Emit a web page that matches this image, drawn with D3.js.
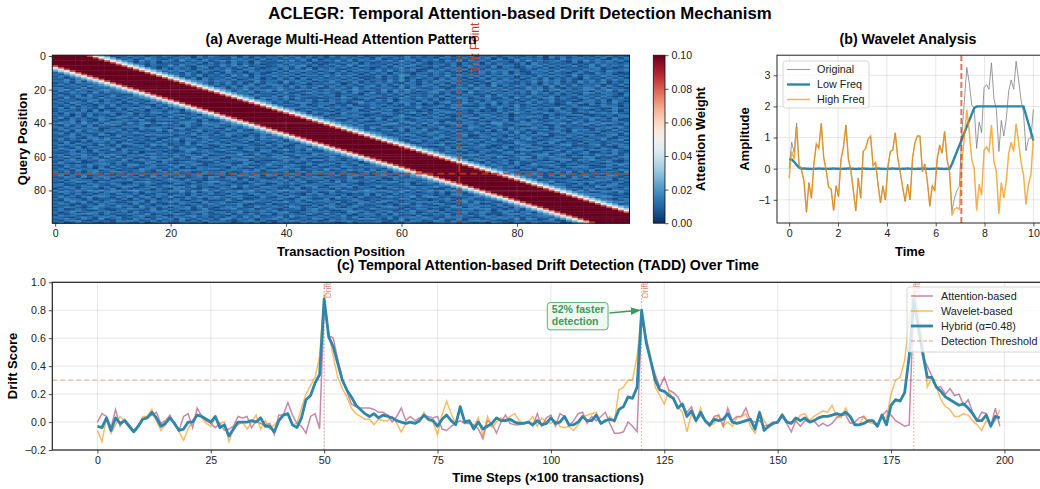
<!DOCTYPE html>
<html>
<head>
<meta charset="utf-8">
<script src="https://cdn.jsdelivr.net/npm/d3@7"></script>
<style>
body { margin: 0; background: #fff; }
svg { font-family: "Liberation Sans", Arial, sans-serif; }
</style>
</head>
<body>
<div id="chart"></div>
<script>
// ---------- (a) attention heatmap ----------
var heatSize = 100;
var heatTicks = [0, 20, 40, 60, 80];
var cbarTicks = [0, 0.02, 0.04, 0.06, 0.08, 0.10];
var heatDrift = 70;
// weight by distance |query - key| along the diagonal band
var bandProfile = [0.2, 0.2, 0.2, 0.2, 0.2, 0.2, 0.082, 0.052, 0.032, 0.02];
// background noise, one digit per cell (0 = 0.003 ... 9 = 0.0165)
var noiseRows = [
"4627351846253947163852741839624718352649385274619364291538742957364182538164927542639185747152849362",
"3751942863517284963527491836452937184652839471625384726195374826351974283659142837546193825746391528",
"5284637192463815974263957184623584719264375829163547286391452873649152837465192384756132947563821945",
"6139482575284619372851936472593846172539482617354928164735829471635284917362845173926458317294658371",
"2947563814375926481536274918352847196342857391624583917246385729416357284619375248196374528163947526",
"4816395273592847164372958146385927461358294736158429637452817396425837164925384617295836471529384657",
"7352846192648397152485731964283759146237548916352748196537284961548327169453827614958273649158274639",
"3964725184728359461638472591647382951465839271647593825146379258416395728463917524863917254638927145",
"5182937465391846275927461835748319624581736492857316495283746591263847591628374952618473956284713569",
"2659483716847253961475936284159372846327195846258391746583927461397524816374958261375829461738529646",
"4738165293562847193846295173829461573195847263951847362947185326748593162483759164287395416832957413",
"6295374813471928563617384925463859172846381957264735918246359817426375948162738495236817459263748152",
"3847192656283749158749263815362948175394728165493857162481739645827391564829374615728394618275394826",
"5716384925938471624365928174649275381627391854726384915273648159372648519283746517394826375194628371",
"4392815768471639528652748193573914862548263719564827391652839471562938471562839471652938472165384957",
"6583927145319482675243861973857264193562948371529384716253948172639584726139485726394857162948371526",
"2471958364865739214738195462649381572741825936478513926485731962847519362841975326481759362847591638",
"5938264711429378563659482173827364915896427315453817294638296471582953748162947538162947538264715392",
"3164729584782516394347295816253819647267193845928364517927418365947261538472916385746291837465928317",
"7825391645364827159925163847491758362358471629136582947365738194257314862957382614958273164597382641",
"4591836278517293846483756192836249175749318562472815936418364927515926483754829163748259361478259364",
"2937461859682415397274839165517384926916574238365492871548193762489473619258361748295162837461958273",
"6148573926359182746851624937392856714473812695784163925926375814368251739462847516395827461398275416",
"3825619473741396582397561824684137295528469137267358419453928176474395186237194856273648159273648519",
"5672938415926485371638294751259671843391825764946182573784261935382917645829475163947281563847295136",
"4193576284473859162927158346863724519765849312134597268612739548546283971567318294625893741582936472",
"2856147939618273845416938572374915628283716594958364217295814736729146385438265917391582647259381765",
"7364829515372946183753281946621849735847295361416573892463928571853692471926847351748593261386472951",
"3719562848561382794248695317983576142525148973668241395734165829271584396385917246827361495947163825",
"5482936174927465318561743298146928357394762815772539164858472936143628957471936582593741268218594637",
"6257184393846517926392857461527361849468135972925748613671823459538946721264587193716254938452389716",
"3918465272173694851817439526845927136159286347483651792936475128264139587592381764384759162697421853",
"4675293815482938167546182739319584627726491583358274916257913864719642853836175294953628471541736928",
"2846571939357164285289375164764813259543792618631658742984526371345987162614293857278516943869342715",
"5193827467624915378473126598297465183315846927286193475418732695928375641753618294462973581137685942",
"7481639253915738462638947125854172396693251874472586931365849217174923568289475136536182479921457386",
"3652918474289546137195264873736981524257439168915347682742169853658271394364928157897345612483516279",
"4917362585673281946542918736158247369871562493364892517293475168426753819917384265625193847358761942",
"6238475197148659327876345291493561872429873156537216498581947326795412683286539174172648593649275813",
"2579183463896427513324789165267834951658314297742859361157328946367194258531867429498256317815923674",
"5846293718451836927951672384584129637316957482289643715643791582928357164174982635631574928257398416",
"3194657286972548131427385169735916248872415936526178394319864257185236947452693178948127563693851427",
"7462819354318697256865193472961748325543286719147539862782145936356914728829375641275938164416257893",
"4827365912653419787318942657218637594185947326694182573936257481742863159561742938893416725532968174",
"2683947516581726349592617834649283175276158943853716492427938165913475826348291657156837429781542936",
"5361829747948371526184573926372495681964731258215894637853416279649728153726158394624379518357916482",
"6917452381236598473436928175158736249528163794376249158194582736287351964953846271719623845843175629",
"3548176297185423968781359462839461527319586247925738416546137982573826491164752839385914276268437915",
"4279638514692847135523741896467152839876324915738165294382954167146983572497261358753128694916548273",
"5836217949327164582169485273512739648453897126647582931761294835839517624235846917928473516374692158",
"2715493868573926141948267359385274916695143728219386475534862197375142869682917354861359742547283691",
"4693152784815374629356184792726439185438275961368794512957613248264598173719432586327896154185627439",
"6182947353639821574725391648951862437164952873581237694375846921642713958254863197548192673917534862",
"3857264194182576396814273951469578312927316548935462817832194765758936214496125738713645892246918375",
"5426918737491358262593746185182435967648159723257913648156378492321584796873269145985127463536742189",
"2961735486826743915375869412736917524281537496618724395697245813486371925642718359149583726854196237",
"7359461823918245674621589374594236817736945182462815973243596178934267581357491268864129357618753942",
"4537182965368591427152394786327861459814328675286743159374582916168495237286357914613785294491276853",
"3268854172657132894936751248652397481462875319859162374513218649726934815561428739375914862783541926",
"6815394277841769253547286391348692175257139648375498216185269473642157389928751364249836715142968537",
"2493676518193452786628417935571438926386921574629357841749183265783256914164397258916584327597423168",
"5627183943735816294283749516812975364659473812157624983928475613419372856837251649428369751368152947",
"4178526396429178536961235478367589142123856749938416257636712984574829361692548137763145892859637214",
"3856912475586324791845796132926437815496728351243785619281569347651943782518276493536891724472589316",
"6941235788273651946731568924485129673867341295579164832464938275843127596247659183195427368236415879",
"2175849365461895372386947215758396124932587461862573194519274638926358417973842561685793142751368294",
"5394628171935742685629183754241875936574963128316298547783156429371486952416395827451368279984215637",
"3728465196284319753475231869963742158215689374597815362642397581158693274859274316839415726463879152",
"4561937826713468529152897643327658491798425136281459673926548317537249816624835971218973564539162487",
"7283516944896257314938461275584139762453716928846372159387195462261784539985142637674528391826437519",
"3652749818142983657267315894791826345635294187479158326148763925893527164357961482496237185153794268",
"5917382464375619282854736912462397581981647253135826974279418536618953742249685317765281934675319842",
"2486193577628471395516824739817543962526381749674239518853674291347162859781539264539146728392876415",
"6375821949153746828493157628358916274149257386926548137482193657956384127625738491876523149617458293",
"4829567132786923541678492315623748159763918425281637954915246783528719364367249518912485673254986137",
"3164975286532187946245638179974152836587364912843915627367891524791432685184562937436791258769432581",
"5837219644961354872319724658286531497128596347597486213524637918473568192793214856658239741817365924",
"7621483952385792614882159367731849562375241896614793825696254731236857419518963742941376528542819763",
"4396157827248613593567938241465927318853167249238659174173842596659421387374592618587614932163987425",
"2758396415916247838419573286397216485682439157771925346821596374842173956953784162214859367387251649",
"6142738593674895214356817492813475926238965714457183269568314927384659271426197358685327491918643752",
"3975614827851372964264938157248596731946175328138246957734958261572814639869351742326479185651387294",
"5283947166297481538813527649461732895582743196927651438285193746453718926217536498578965213389752461",
"4617352987436829157549618273329584167678195243764182539193745682961437852786429315452381796246897135",
"2854169375184736926391274856952763418315862974546937182417862593698251347853614729739152684731598642",
"7396528144528193671627493518748391256469317852291856734562439817324795168247813596187465329592364178",
"3189746525962348175758316942239417685731548296875234961628951473516372894634598217923786451146829537",
"5628491737413685292485762193671258934287936415364915278397162548785146392957326184651294378823416795",
"4973165286854192734132857469596784132914265873638172495741538926249831567812675943384962715678591324",
"6341827595297638417697314825824391576563784129197543862286714359631659248478192635713845962235147689",
"2587314964682519473816592734158673294476198352849316725527983146457328916934527186592714836957634218",
"5712638941345976281364781592476925813831547269526897143963451728713264589689351472278639514481925367",
"3846951275178342695927153486213485769692354178371259684158627394598173246247186953829461375738216945",
"6159247838736194258581437962782591436358921647654318927472953681362815794586239417617358294316497852",
"4325789617264853913649725183359164827817463295293746158628194573847592361471326895956218437864725139",
"2968413755813279648215389674641837592546297813728491365836572419126473958395714628368975412179836524",
"7431596288592647134937648251517629384369182457482573916243816795953187642138496752725638194642319875",
"3685274191463185729471952836298374615794613528815362497951728346672943815624857391871294563317562948",
"5279831644186973582653817294473156928225798364139687524364259187249615738987321465643782159958247361",
"4813967526378429165832574619865247391617352948574139286782361954316859274351974286296458137836195427"
];

// ---------- (b) wavelet analysis (100 samples on 0..10) ----------
var waveHigh = [-0.30,0.55,0.30,1.35,0.10,-0.05,-0.40,-1.40,-0.45,-0.95,
  0.15,0.80,0.65,1.45,0.35,-0.05,-0.60,-0.65,-1.35,-0.55,
  -0.90,0.30,0.70,1.40,0.30,-0.05,-0.70,-1.35,-0.30,-0.95,
  0.55,0.65,0.95,1.05,0.10,0.20,-0.50,-1.10,-0.55,-1.00,
  0.05,0.55,0.60,1.15,0.35,-0.10,-0.60,-1.05,-0.50,-1.00,
  0.35,0.85,1.05,1.05,-0.10,0.15,-0.40,-1.20,-0.55,-0.70,
  0.30,0.75,0.50,1.20,0.30,-0.10,-1.50,-1.30,-1.25,-1.30,
  0.20,1.00,1.90,1.20,0.30,0.00,-1.35,-0.50,-0.85,0.60,
  0.70,0.55,1.40,0.25,-0.10,-1.45,-0.45,-0.95,-0.40,0.50,
  0.85,0.55,1.45,0.85,0.20,-0.20,-1.15,-0.50,-0.20,1.00];
var waveLow = [0.30,0.30,0.22,0.12,0.04,0.00,0.01,0.00,0.00,-0.01,
  0.00,0.00,0.01,0.00,0.00,-0.01,0.00,0.00,0.01,0.00,
  0.00,-0.01,0.00,0.00,0.01,0.00,0.00,-0.01,0.00,0.00,
  0.01,0.00,0.00,-0.01,0.00,0.00,0.01,0.00,0.00,-0.01,
  0.00,0.00,0.01,0.00,0.00,-0.01,0.00,0.00,0.01,0.00,
  0.00,-0.01,0.00,0.00,0.01,0.00,0.00,-0.01,0.00,0.00,
  0.01,0.00,0.00,-0.01,0.00,0.00,0.15,0.35,0.55,0.75,
  0.95,1.15,1.35,1.55,1.75,1.95,2.00,2.00,2.00,2.00,
  2.00,2.00,2.00,2.00,2.00,2.00,2.00,2.00,2.00,2.00,
  2.00,2.00,2.00,2.00,2.00,2.00,1.72,1.45,1.18,0.90];
var waveOrig = [0.00,0.85,0.52,1.47,0.14,-0.05,-0.39,-1.40,-0.45,-0.96,
  0.15,0.80,0.66,1.45,0.35,-0.06,-0.60,-0.65,-1.34,-0.55,
  -0.90,0.29,0.70,1.40,0.31,-0.05,-0.70,-1.36,-0.30,-0.95,
  0.56,0.65,0.95,1.04,0.10,0.20,-0.49,-1.10,-0.55,-1.01,
  0.05,0.55,0.61,1.15,0.35,-0.11,-0.60,-1.05,-0.49,-1.00,
  0.35,0.84,1.05,1.05,-0.09,0.15,-0.40,-1.21,-0.55,-0.70,
  0.31,0.75,0.50,1.19,0.30,-0.10,-1.35,-0.95,-0.70,-0.55,
  1.15,2.15,3.25,2.75,2.05,1.95,0.65,1.50,1.15,2.60,
  2.70,2.55,3.40,2.25,1.90,0.55,1.55,1.05,1.60,2.50,
  2.85,2.55,3.45,2.85,2.20,1.80,0.57,0.95,0.98,1.90];
var waveDrift = 7.05;
var waveXTicks = [0, 2, 4, 6, 8, 10];
var waveYTicks = [-1, 0, 1, 2, 3];

// ---------- (c) drift scores over 200 time steps ----------
var attnScore = [0.00,0.06,0.04,-0.04,0.09,-0.03,0.02,-0.02,-0.06,-0.03,
  0.02,0.04,0.05,0.07,-0.01,0.01,0.05,-0.02,-0.06,0.04,
  0.06,-0.04,0.10,0.04,0.01,-0.01,-0.04,-0.01,-0.06,-0.05,
  -0.03,0.04,0.03,0.04,-0.04,0.01,-0.01,-0.02,-0.01,-0.09,
  0.05,0.05,0.14,0.05,-0.01,-0.03,-0.08,0.04,0.06,-0.05,
  0.85,0.62,0.60,0.45,0.31,0.22,0.13,0.11,0.10,0.10,
  0.10,0.09,0.07,0.07,0.05,0.00,0.04,0.10,0.01,0.04,
  0.01,0.03,0.04,0.04,0.03,0.04,-0.05,-0.06,-0.03,-0.01,
  0.01,-0.01,-0.01,-0.02,-0.05,-0.12,0.01,-0.01,-0.08,0.00,
  0.05,-0.01,-0.02,-0.02,-0.01,0.00,-0.03,0.06,-0.03,0.03,
  0.05,-0.03,0.06,0.04,-0.03,0.01,0.06,0.07,-0.01,0.04,
  0.01,0.04,0.07,-0.01,-0.08,-0.08,-0.07,0.00,-0.03,-0.07,
  0.73,0.60,0.44,0.34,0.25,0.32,0.23,0.21,0.18,0.11,
  0.07,0.11,0.01,0.05,0.01,-0.03,0.04,0.05,-0.03,0.10,
  0.01,0.04,0.04,0.10,0.01,0.00,0.01,-0.03,-0.02,0.00,
  -0.01,0.04,-0.01,-0.07,0.01,-0.03,0.01,0.00,0.01,-0.03,
  -0.01,-0.03,-0.01,0.03,0.05,0.05,-0.01,0.00,0.03,0.04,
  0.00,0.01,-0.03,0.04,0.08,0.05,0.01,-0.01,-0.03,-0.02,
  0.85,0.68,0.47,0.40,0.33,0.25,0.25,0.20,0.24,0.19,
  0.20,0.12,0.16,0.07,0.01,0.07,0.06,-0.03,0.10,-0.03];
var waveScore = [-0.06,-0.14,0.03,-0.08,-0.02,0.04,0.01,-0.03,-0.07,-0.02,
  0.04,0.04,0.09,0.01,-0.06,-0.02,0.04,-0.01,-0.07,-0.13,
  -0.05,0.01,0.06,0.03,-0.01,-0.03,0.03,-0.01,0.00,-0.14,
  -0.05,-0.02,0.00,-0.05,0.00,0.05,-0.05,0.01,-0.05,-0.02,
  0.01,0.06,0.05,-0.02,-0.01,0.10,0.20,0.26,0.32,0.47,
  0.91,0.64,0.47,0.32,0.24,0.18,0.10,0.06,0.04,0.02,
  0.02,-0.02,0.02,0.01,0.01,0.04,-0.01,-0.07,-0.01,0.00,
  -0.01,0.00,0.07,0.01,0.00,-0.09,0.05,0.15,0.06,-0.01,
  0.09,-0.01,0.00,-0.03,0.03,-0.10,0.04,-0.04,0.00,0.03,
  0.01,0.04,0.06,0.01,-0.01,0.00,0.04,-0.03,0.03,0.00,
  -0.01,0.01,-0.03,-0.04,-0.03,-0.06,-0.02,0.03,0.05,0.06,
  0.07,-0.01,0.00,0.04,0.00,0.23,0.25,0.30,0.30,0.47,
  0.77,0.61,0.47,0.25,0.19,0.13,0.22,0.16,0.11,0.07,
  -0.07,0.06,0.00,0.10,0.00,-0.03,-0.01,0.05,-0.03,0.00,
  -0.03,0.03,0.04,0.06,-0.03,-0.08,0.07,0.01,-0.04,-0.01,
  0.00,0.06,0.01,-0.01,0.00,0.05,0.06,0.01,0.04,0.06,
  0.08,0.07,0.12,0.04,0.03,0.10,0.03,-0.01,-0.02,0.04,
  0.00,-0.01,-0.02,0.04,0.03,0.20,0.30,0.32,0.44,0.73,
  0.95,0.80,0.56,0.25,0.32,0.25,0.16,0.11,0.09,0.04,
  0.04,0.06,0.05,0.01,-0.02,-0.06,0.01,-0.01,0.01,0.09];
var hybridScore = [-0.03,-0.04,0.03,-0.06,0.03,-0.01,0.01,-0.03,-0.07,-0.03,
  0.02,0.03,0.07,0.03,-0.03,-0.01,0.03,-0.01,-0.06,-0.05,
  0.00,0.00,0.05,0.04,0.02,0.00,0.04,-0.04,-0.02,-0.10,
  -0.05,0.00,0.00,0.00,0.01,0.00,0.03,-0.03,-0.03,-0.07,
  0.01,0.05,0.06,-0.02,-0.04,0.03,0.16,0.19,0.28,0.34,
  0.88,0.61,0.54,0.42,0.30,0.23,0.18,0.12,0.09,0.06,
  0.04,0.06,0.03,0.05,0.04,0.03,0.01,0.00,-0.01,0.00,
  -0.01,0.01,0.05,0.02,0.01,-0.03,0.02,0.05,0.01,-0.02,
  0.11,0.00,0.01,-0.05,0.00,-0.05,-0.03,-0.01,0.03,0.01,
  0.01,0.02,0.00,-0.01,-0.01,0.00,-0.02,0.01,-0.02,-0.01,
  0.03,-0.01,0.00,0.04,-0.02,-0.02,0.00,0.04,0.01,0.01,
  0.05,-0.01,0.01,0.02,0.01,0.09,0.11,0.18,0.17,0.25,
  0.80,0.57,0.44,0.30,0.23,0.22,0.19,0.17,0.10,0.13,
  0.04,0.08,0.01,0.07,0.01,-0.02,0.02,0.01,0.02,0.06,
  0.00,-0.01,0.00,0.01,0.02,-0.05,0.07,-0.06,-0.03,-0.01,
  0.00,0.05,0.00,-0.01,0.03,0.01,0.03,0.00,0.01,0.03,
  0.04,0.04,0.05,0.06,0.05,0.07,0.04,-0.02,-0.02,-0.01,
  0.01,0.01,-0.03,0.05,-0.02,0.12,0.16,0.15,0.21,0.47,
  0.88,0.68,0.49,0.32,0.32,0.25,0.22,0.18,0.16,0.14,
  0.12,0.13,0.10,0.06,0.01,0.01,0.05,-0.03,0.04,0.03];
var driftSteps = [50, 120, 180];
var threshold = 0.3;
var scoreXTicks = [0, 25, 50, 75, 100, 125, 150, 175, 200];
var scoreYTicks = [-0.2, 0, 0.2, 0.4, 0.6, 0.8, 1.0];

// colours
var cBlue = "#2E86AB", cPink = "#A23B72", cOrange = "#F18F01", cRed = "#C73E1D", cGreen = "#3d9a5e";
var tickFont = "10.6px", legendFont = "10.8px", labelFont = "13px", titleFont = "14.2px";

var W = 1040, H = 489;
var svg = d3.select("#chart").append("svg")
    .attr("width", W).attr("height", H);
svg.append("rect").attr("width", W).attr("height", H).attr("fill", "#fff");

var defs = svg.append("defs");

svg.append("text")
    .attr("x", 520).attr("y", 18.5)
    .attr("text-anchor", "middle")
    .style("font-size", "16.8px").style("font-weight", "bold")
    .text("ACLEGR: Temporal Attention-based Drift Detection Mechanism");

function styleAxis(g) {
    g.select(".domain").remove();
    g.selectAll(".tick line").attr("stroke", "#222").attr("stroke-width", 0.8);
    g.selectAll(".tick text").attr("fill", "#222").style("font-size", tickFont);
}

function axisLabel(x, y, txt, rotate) {
    var t = svg.append("text")
        .attr("text-anchor", "middle")
        .style("font-size", labelFont).style("font-weight", "bold")
        .text(txt);
    if (rotate) t.attr("transform", "translate(" + x + "," + y + ") rotate(-90)");
    else t.attr("x", x).attr("y", y);
}

function panelTitle(x, y, txt) {
    svg.append("text")
        .attr("x", x).attr("y", y)
        .attr("text-anchor", "middle")
        .style("font-size", titleFont).style("font-weight", "bold")
        .text(txt);
}

// ================= (a) heatmap =================
var hx = d3.scaleLinear().domain([-0.5, heatSize - 0.5]).range([52.3, 629.5]);
var hy = d3.scaleLinear().domain([-0.5, heatSize - 0.5]).range([55.2, 223.2]);
var heatColor = d3.scaleSequential(function(t) { return d3.interpolateRdBu(1 - t); })
    .domain([0, 0.1]).clamp(true);

var cells = [];
for (var r = 0; r < heatSize; r++) {
    for (var c = 0; c < heatSize; c++) {
        var dist = Math.abs(r - c);
        var digit = +(noiseRows[r] && noiseRows[r].charAt(c) || "5");
        var v = 0.003 + 0.0015 * digit;
        if (dist < bandProfile.length) v = Math.max(v, bandProfile[dist]);
        cells.push({ r: r, c: c, v: v });
    }
}
var cw = hx(1) - hx(0), ch = hy(1) - hy(0);
var heat = svg.append("g");
heat.selectAll("rect")
    .data(cells)
    .enter().append("rect")
    .attr("x", function(d) { return hx(d.c - 0.5); })
    .attr("y", function(d) { return hy(d.r - 0.5); })
    .attr("width", cw + 0.4)
    .attr("height", ch + 0.4)
    .attr("fill", function(d) { return heatColor(d.v); });

// faint grid over image
heat.selectAll(".gx").data(heatTicks.slice(1)).enter().append("line")
    .attr("x1", function(d) { return hx(d); }).attr("x2", function(d) { return hx(d); })
    .attr("y1", hy.range()[0]).attr("y2", hy.range()[1])
    .attr("stroke", "#ffffff").attr("stroke-opacity", 0.12);
heat.selectAll(".gy").data(heatTicks.slice(1)).enter().append("line")
    .attr("y1", function(d) { return hy(d); }).attr("y2", function(d) { return hy(d); })
    .attr("x1", hx.range()[0]).attr("x2", hx.range()[1])
    .attr("stroke", "#ffffff").attr("stroke-opacity", 0.12);

// drift point markers
svg.append("line")
    .attr("x1", hx(heatDrift)).attr("x2", hx(heatDrift))
    .attr("y1", hy.range()[0]).attr("y2", hy.range()[1])
    .attr("stroke", cRed).attr("stroke-opacity", 0.85)
    .attr("stroke-width", 1.8).attr("stroke-dasharray", "7,4");
svg.append("line")
    .attr("y1", hy(heatDrift)).attr("y2", hy(heatDrift))
    .attr("x1", hx.range()[0]).attr("x2", hx.range()[1])
    .attr("stroke", cRed).attr("stroke-opacity", 0.85)
    .attr("stroke-width", 1.8).attr("stroke-dasharray", "7,4");
svg.append("text")
    .attr("transform", "translate(" + (hx(heatDrift) + 20) + "," + hy(11.5) + ") rotate(-90)")
    .attr("fill", cRed)
    .style("font-size", "12px")
    .text("Drift Point");

svg.append("rect")
    .attr("x", hx.range()[0]).attr("y", hy.range()[0])
    .attr("width", hx.range()[1] - hx.range()[0]).attr("height", hy.range()[1] - hy.range()[0])
    .attr("fill", "none").attr("stroke", "#111").attr("stroke-width", 1);

svg.append("g").attr("transform", "translate(0," + hy.range()[1] + ")")
    .call(d3.axisBottom(hx).tickValues(heatTicks).tickSize(3.5).tickPadding(3).tickFormat(d3.format("d")))
    .call(styleAxis);
svg.append("g").attr("transform", "translate(" + hx.range()[0] + ",0)")
    .call(d3.axisLeft(hy).tickValues(heatTicks).tickSize(3.5).tickPadding(3).tickFormat(d3.format("d")))
    .call(styleAxis);

panelTitle(341, 44, "(a) Average Multi-Head Attention Pattern");
axisLabel(341, 255.5, "Transaction Position");
axisLabel(27, 139, "Query Position", true);

// colorbar
var cbY = d3.scaleLinear().domain([0, 0.1]).range([223.2, 55.2]);
var grad = defs.append("linearGradient").attr("id", "cbgrad")
    .attr("x1", 0).attr("y1", 1).attr("x2", 0).attr("y2", 0);
d3.range(0, 1.0001, 0.05).forEach(function(t) {
    grad.append("stop").attr("offset", t).attr("stop-color", heatColor(t * 0.1));
});
svg.append("rect")
    .attr("x", 653.3).attr("y", 55.2).attr("width", 11.7).attr("height", 168)
    .attr("fill", "url(#cbgrad)").attr("stroke", "#111").attr("stroke-width", 0.8);
svg.append("g").attr("transform", "translate(665,0)")
    .call(d3.axisRight(cbY).tickValues(cbarTicks).tickSize(3.5).tickPadding(3).tickFormat(d3.format(".2f")))
    .call(styleAxis);
axisLabel(705, 139, "Attention Weight", true);

// ================= (b) wavelet =================
var waveTime = d3.range(waveOrig.length).map(function(i) { return i * 10 / (waveOrig.length - 1); });
var bx = d3.scaleLinear().domain([-0.5, 10.5]).range([777, 1045.6]);
var by = d3.scaleLinear().domain([-1.745, 3.645]).range([223, 55.2]);

defs.append("clipPath").attr("id", "clipB").append("rect")
    .attr("x", bx.range()[0]).attr("y", by.range()[1])
    .attr("width", bx.range()[1] - bx.range()[0]).attr("height", by.range()[0] - by.range()[1]);

var gb = svg.append("g");
gb.selectAll(".gx").data(waveXTicks).enter().append("line")
    .attr("x1", function(d) { return bx(d); }).attr("x2", function(d) { return bx(d); })
    .attr("y1", by.range()[0]).attr("y2", by.range()[1])
    .attr("stroke", "#b0b0b0").attr("stroke-opacity", 0.3);
gb.selectAll(".gy").data(waveYTicks).enter().append("line")
    .attr("y1", function(d) { return by(d); }).attr("y2", function(d) { return by(d); })
    .attr("x1", bx.range()[0]).attr("x2", bx.range()[1])
    .attr("stroke", "#b0b0b0").attr("stroke-opacity", 0.3);

var waveLine = function(arr) {
    return d3.line()
        .x(function(d, i) { return bx(waveTime[i]); })
        .y(function(d) { return by(d); })(arr);
};
var gbl = svg.append("g").attr("clip-path", "url(#clipB)");
gbl.append("path").attr("d", waveLine(waveOrig))
    .attr("fill", "none").attr("stroke", "#808080").attr("stroke-opacity", 0.8).attr("stroke-width", 1);
gbl.append("path").attr("d", waveLine(waveLow))
    .attr("fill", "none").attr("stroke", cBlue).attr("stroke-width", 2.4);
gbl.append("path").attr("d", waveLine(waveHigh))
    .attr("fill", "none").attr("stroke", cOrange).attr("stroke-opacity", 0.7).attr("stroke-width", 1.5);
gbl.append("line")
    .attr("x1", bx(waveDrift)).attr("x2", bx(waveDrift))
    .attr("y1", by.range()[0]).attr("y2", by.range()[1])
    .attr("stroke", cRed).attr("stroke-opacity", 0.7)
    .attr("stroke-width", 2).attr("stroke-dasharray", "6,3");

svg.append("rect")
    .attr("x", bx.range()[0]).attr("y", by.range()[1])
    .attr("width", bx.range()[1] - bx.range()[0]).attr("height", by.range()[0] - by.range()[1])
    .attr("fill", "none").attr("stroke", "#222").attr("stroke-width", 1);
svg.append("g").attr("transform", "translate(0," + by.range()[0] + ")")
    .call(d3.axisBottom(bx).tickValues(waveXTicks).tickSize(3.5).tickPadding(3).tickFormat(d3.format("d")))
    .call(styleAxis);
svg.append("g").attr("transform", "translate(" + bx.range()[0] + ",0)")
    .call(d3.axisLeft(by).tickValues(waveYTicks).tickSize(3.5).tickPadding(3).tickFormat(d3.format("d")))
    .call(styleAxis);

panelTitle(908, 44, "(b) Wavelet Analysis");
axisLabel(910, 255.5, "Time");
axisLabel(749, 139, "Amplitude", true);

// legend (b)
var legB = [
    { name: "Original", color: "#808080", op: 0.8, w: 1 },
    { name: "Low Freq", color: cBlue, op: 1, w: 2.4 },
    { name: "High Freq", color: cOrange, op: 0.7, w: 1.5 }
];
var lb = svg.append("g").attr("transform", "translate(783,61)");
lb.append("rect").attr("width", 86).attr("height", 47).attr("rx", 2.5)
    .attr("fill", "#fff").attr("fill-opacity", 0.8).attr("stroke", "#cccccc").attr("stroke-width", 0.8);
legB.forEach(function(d, i) {
    var yy = 8.5 + i * 15;
    lb.append("line").attr("x1", 4).attr("x2", 27).attr("y1", yy).attr("y2", yy)
        .attr("stroke", d.color).attr("stroke-opacity", d.op).attr("stroke-width", d.w);
    lb.append("text").attr("x", 34).attr("y", yy + 3.8)
        .style("font-size", legendFont).attr("fill", "#222").text(d.name);
});

// ================= (c) drift scores =================
var steps = d3.range(hybridScore.length);
var cx = d3.scaleLinear().domain([-9.95, 208.95]).range([52.3, 1045]);
var cy = d3.scaleLinear().domain([-0.2, 1.0]).range([450, 282.3]);

defs.append("clipPath").attr("id", "clipC").append("rect")
    .attr("x", cx.range()[0]).attr("y", cy.range()[1])
    .attr("width", cx.range()[1] - cx.range()[0]).attr("height", cy.range()[0] - cy.range()[1]);

var gc = svg.append("g");
gc.selectAll(".gx").data(scoreXTicks).enter().append("line")
    .attr("x1", function(d) { return cx(d); }).attr("x2", function(d) { return cx(d); })
    .attr("y1", cy.range()[0]).attr("y2", cy.range()[1])
    .attr("stroke", "#b0b0b0").attr("stroke-opacity", 0.3);
gc.selectAll(".gy").data(scoreYTicks).enter().append("line")
    .attr("y1", function(d) { return cy(d); }).attr("y2", function(d) { return cy(d); })
    .attr("x1", cx.range()[0]).attr("x2", cx.range()[1])
    .attr("stroke", "#b0b0b0").attr("stroke-opacity", 0.3);

var scoreLine = d3.line()
    .x(function(d, i) { return cx(steps[i]); })
    .y(function(d) { return cy(d); });
var gcl = svg.append("g").attr("clip-path", "url(#clipC)");

// threshold + drift markers
gcl.append("line")
    .attr("x1", cx.range()[0]).attr("x2", cx.range()[1])
    .attr("y1", cy(threshold)).attr("y2", cy(threshold))
    .attr("stroke", cRed).attr("stroke-opacity", 0.5).attr("stroke-width", 1)
    .attr("stroke-dasharray", "5,3");
gcl.selectAll(".drift").data(driftSteps).enter().append("line")
    .attr("x1", function(d) { return cx(d); }).attr("x2", function(d) { return cx(d); })
    .attr("y1", cy.range()[0]).attr("y2", cy.range()[1])
    .attr("stroke", cRed).attr("stroke-opacity", 0.45).attr("stroke-width", 1)
    .attr("stroke-dasharray", "1.5,2");

gcl.append("path").attr("d", scoreLine(attnScore))
    .attr("fill", "none").attr("stroke", cPink).attr("stroke-opacity", 0.6).attr("stroke-width", 1.5);
gcl.append("path").attr("d", scoreLine(waveScore))
    .attr("fill", "none").attr("stroke", cOrange).attr("stroke-opacity", 0.6).attr("stroke-width", 1.5);
gcl.append("path").attr("d", scoreLine(hybridScore))
    .attr("fill", "none").attr("stroke", cBlue).attr("stroke-width", 2.8)
    .attr("stroke-linejoin", "round");

gcl.selectAll(".dlab").data(driftSteps).enter().append("text")
    .attr("transform", function(d) { return "translate(" + (cx(d) + 6.5) + "," + cy(0.885) + ") rotate(-90)"; })
    .attr("fill", cRed).attr("fill-opacity", 0.65)
    .style("font-size", "8.5px")
    .text("Drift");

svg.append("rect")
    .attr("x", cx.range()[0]).attr("y", cy.range()[1])
    .attr("width", cx.range()[1] - cx.range()[0]).attr("height", cy.range()[0] - cy.range()[1])
    .attr("fill", "none").attr("stroke", "#222").attr("stroke-width", 1.2);
svg.append("g").attr("transform", "translate(0," + cy.range()[0] + ")")
    .call(d3.axisBottom(cx).tickValues(scoreXTicks).tickSize(3.5).tickPadding(3).tickFormat(d3.format("d")))
    .call(styleAxis);
svg.append("g").attr("transform", "translate(" + cx.range()[0] + ",0)")
    .call(d3.axisLeft(cy).tickValues(scoreYTicks).tickSize(3.5).tickPadding(3).tickFormat(d3.format(".1f")))
    .call(styleAxis);

panelTitle(548, 270, "(c) Temporal Attention-based Drift Detection (TADD) Over Time");
axisLabel(548, 481.5, "Time Steps (\u00d7100 transactions)");
axisLabel(17, 366, "Drift Score", true);

// annotation at second drift
var peakStep = driftSteps[1];
var ann = svg.append("g");
ann.append("rect")
    .attr("x", cx(99.2)).attr("y", cy(0.855))
    .attr("width", cx(112.6) - cx(99.2)).attr("height", cy(0.66) - cy(0.855))
    .attr("rx", 3)
    .attr("fill", "#eef7f1").attr("fill-opacity", 0.9)
    .attr("stroke", cGreen).attr("stroke-opacity", 0.8).attr("stroke-width", 1);
ann.append("text")
    .attr("x", cx(100.2)).attr("y", cy(0.78))
    .attr("fill", cGreen).style("font-size", "10.5px").style("font-weight", "bold")
    .text("52% faster");
ann.append("text")
    .attr("x", cx(100.2)).attr("y", cy(0.695))
    .attr("fill", cGreen).style("font-size", "10.5px").style("font-weight", "bold")
    .text("detection");
defs.append("marker").attr("id", "arrowG")
    .attr("viewBox", "0 0 10 10").attr("refX", 9).attr("refY", 5)
    .attr("markerWidth", 7).attr("markerHeight", 7).attr("orient", "auto")
    .append("path").attr("d", "M0,1 L10,5 L0,9 z").attr("fill", cGreen);
ann.append("line")
    .attr("x1", cx(112.9)).attr("y1", cy(0.78))
    .attr("x2", cx(peakStep) - 2).attr("y2", cy(hybridScore[peakStep]))
    .attr("stroke", cGreen).attr("stroke-width", 1.4)
    .attr("marker-end", "url(#arrowG)");

// legend (c)
var legC = [
    { name: "Attention-based", color: cPink, op: 0.6, w: 1.5, dash: null },
    { name: "Wavelet-based", color: cOrange, op: 0.6, w: 1.5, dash: null },
    { name: "Hybrid (\u03b1=0.48)", color: cBlue, op: 1, w: 2.8, dash: null },
    { name: "Detection Threshold", color: cRed, op: 0.5, w: 1, dash: "4,2" }
];
var lc = svg.append("g").attr("transform", "translate(907,287)");
lc.append("rect").attr("width", 140).attr("height", 65).attr("rx", 2.5)
    .attr("fill", "#fff").attr("fill-opacity", 0.8).attr("stroke", "#cccccc").attr("stroke-width", 0.8);
legC.forEach(function(d, i) {
    var yy = 9 + i * 15;
    lc.append("line").attr("x1", 4).attr("x2", 26).attr("y1", yy).attr("y2", yy)
        .attr("stroke", d.color).attr("stroke-opacity", d.op).attr("stroke-width", d.w)
        .attr("stroke-dasharray", d.dash);
    lc.append("text").attr("x", 34).attr("y", yy + 3.8)
        .style("font-size", legendFont).attr("fill", "#222").text(d.name);
});
</script>
</body>
</html>
